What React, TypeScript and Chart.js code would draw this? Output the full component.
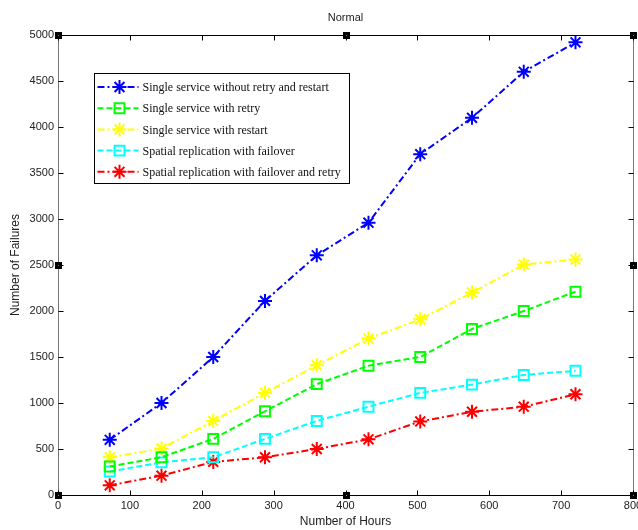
import React, { useEffect, useRef } from 'react';
import { Chart, registerables } from 'chart.js';

Chart.register(...registerables);

const chartTitle = 'Normal';
const xAxisTitle = 'Number of Hours';
const yAxisTitle = 'Number of Failures';
const hours = [72, 144, 216, 288, 360, 432, 504, 576, 648, 720];
const noRetryRestart = [600, 1000, 1500, 2110, 2605, 2960, 3705, 4100, 4600, 4920];
const withRetry = [310, 410, 610, 910, 1205, 1405, 1500, 1805, 2000, 2210];
const withRestart = [410, 505, 805, 1110, 1410, 1700, 1910, 2200, 2505, 2560];
const spatialFailover = [255, 355, 410, 610, 805, 960, 1110, 1200, 1305, 1350];
const spatialFailoverRetry = [105, 210, 360, 410, 500, 605, 800, 905, 960, 1095];
const seriesLabels = [
  'Single service without retry and restart',
  'Single service with retry',
  'Single service with restart',
  'Spatial replication with failover',
  'Spatial replication with failover and retry',
];
const seriesColors = ['#0000ff', '#00ff00', '#ffff00', '#00ffff', '#ff0000'];
const seriesMarkers = ['star', 'rect', 'star', 'rect', 'star'];
const seriesValues = [noRetryRestart, withRetry, withRestart, spatialFailover, spatialFailoverRetry];
const xMin = 0, xMax = 800, xStep = 100;
const yMin = 0, yMax = 5000, yStep = 500;

const DASH_DOT = [7, 3, 2, 3];
const DASHED = [6, 3];

function drawMarker(ctx: CanvasRenderingContext2D, style: string, x: number, y: number, r: number) {
  ctx.beginPath();
  if (style === 'star') {
    ctx.moveTo(x - r, y); ctx.lineTo(x + r, y);
    ctx.moveTo(x, y - r); ctx.lineTo(x, y + r);
    const d = r * Math.SQRT1_2;
    ctx.moveTo(x - d, y - d); ctx.lineTo(x + d, y + d);
    ctx.moveTo(x - d, y + d); ctx.lineTo(x + d, y - d);
  } else {
    const s = r * Math.SQRT1_2;
    ctx.rect(x - s, y - s, 2 * s, 2 * s);
  }
  ctx.stroke();
}

const zeroPad = () => ({ left: 0, top: 0, right: 0, bottom: 0 });

const decorPlugin = {
  id: 'matlabDecor',
  afterDatasetsDraw(chart: any) {
    const ctx: CanvasRenderingContext2D = chart.ctx;
    const { left, right, top, bottom } = chart.chartArea;
    const xs = chart.scales.x;
    const ys = chart.scales.y;
    const L = Math.round(left) + 0.5, R = Math.round(right) + 0.5;
    const T = Math.round(top) + 0.5, B = Math.round(bottom) + 0.5;
    ctx.save();
    ctx.setLineDash([]);
    ctx.lineWidth = 1;
    ctx.strokeStyle = '#000';
    ctx.beginPath();
    ctx.moveTo(L, T); ctx.lineTo(R, T);
    ctx.moveTo(L, B); ctx.lineTo(R, B);
    ctx.stroke();
    ctx.strokeStyle = '#777';
    ctx.beginPath();
    ctx.moveTo(L, T); ctx.lineTo(L, B);
    ctx.moveTo(R, T); ctx.lineTo(R, B);
    ctx.stroke();
    ctx.strokeStyle = '#000';
    ctx.beginPath();
    for (let v = xMin; v <= xMax; v += xStep) {
      const px = Math.round(xs.getPixelForValue(v)) + 0.5;
      ctx.moveTo(px, B); ctx.lineTo(px, B - 5);
      ctx.moveTo(px, T); ctx.lineTo(px, T + 5);
    }
    for (let v = yMin; v <= yMax; v += yStep) {
      const py = Math.round(ys.getPixelForValue(v)) + 0.5;
      ctx.moveTo(L, py); ctx.lineTo(L + 5, py);
      ctx.moveTo(R, py); ctx.lineTo(R - 5, py);
    }
    ctx.stroke();
    const hx = [xMin, (xMin + xMax) / 2, xMax];
    const hy = [yMin, (yMin + yMax) / 2, yMax];
    for (const vx of hx) {
      for (const vy of hy) {
        if (vx === (xMin + xMax) / 2 && vy === (yMin + yMax) / 2) continue;
        const px = Math.round(xs.getPixelForValue(vx));
        const py = Math.round(ys.getPixelForValue(vy));
        ctx.fillStyle = '#000';
        ctx.fillRect(px - 3, py - 3, 7, 7);
        ctx.fillStyle = '#888';
        ctx.fillRect(px, py, 1, 1);
      }
    }
    ctx.fillStyle = '#222';
    ctx.font = '11px "Liberation Sans", Arial, sans-serif';
    ctx.textAlign = 'center';
    ctx.textBaseline = 'middle';
    ctx.fillText(chartTitle, (left + right) / 2, top - 17);
    const lx = Math.round(left + 36) + 0.5;
    const ly = Math.round(top + 38) + 0.5;
    const lw = 255, lh = 110;
    ctx.fillStyle = '#fff';
    ctx.fillRect(lx, ly, lw, lh);
    ctx.strokeStyle = '#000';
    ctx.lineWidth = 1;
    ctx.strokeRect(lx, ly, lw, lh);
    ctx.font = '12px "Liberation Serif", "Times New Roman", serif';
    ctx.textAlign = 'left';
    chart.data.datasets.forEach((ds: any, i: number) => {
      const y = ly + 13.5 + i * 21.2;
      ctx.strokeStyle = ds.borderColor;
      ctx.lineWidth = 2;
      ctx.setLineDash(ds.borderDash);
      ctx.beginPath();
      ctx.moveTo(lx + 3, y); ctx.lineTo(lx + 44, y);
      ctx.stroke();
      ctx.setLineDash([]);
      drawMarker(ctx, ds.pointStyle, lx + 25, y, 7);
      ctx.fillStyle = '#111';
      ctx.fillText(ds.label, lx + 48, y + 1);
    });
    ctx.restore();
  },
};

export default function App() {
  const ref = useRef<HTMLCanvasElement | null>(null);
  useEffect(() => {
    if (!ref.current) return;
    const datasets = seriesLabels.map((label, i) => ({
      label,
      data: hours.map((h, j) => ({ x: h, y: seriesValues[i][j] })),
      borderColor: seriesColors[i],
      backgroundColor: 'transparent',
      borderWidth: 2,
      borderDash: seriesMarkers[i] === 'star' ? DASH_DOT : DASHED,
      pointStyle: seriesMarkers[i],
      pointRadius: 7,
      pointBorderWidth: 2,
      pointBorderColor: seriesColors[i],
      pointBackgroundColor: 'transparent',
      tension: 0,
      fill: false,
    }));
    const tickFont = { family: '"Liberation Sans", Arial, sans-serif', size: 11 };
    const chart = new Chart(ref.current, {
      type: 'line',
      data: { datasets },
      options: {
        animation: false,
        responsive: false,
        devicePixelRatio: 1,
        layout: { autoPadding: false, padding: { top: 35, right: 5, left: 0, bottom: 0 } },
        plugins: { legend: { display: false }, title: { display: false }, tooltip: { enabled: false } },
        scales: {
          x: {
            type: 'linear',
            min: xMin,
            max: xMax,
            ticks: { stepSize: xStep, font: tickFont, color: '#222', padding: 4, maxRotation: 0, callback: (v: any) => String(v) },
            grid: { display: false, drawTicks: false },
            border: { display: false },
            title: {
              display: true,
              text: xAxisTitle,
              color: '#222',
              font: { family: '"Liberation Sans", Arial, sans-serif', size: 12 },
              padding: { top: 0, bottom: 1 },
            },
            afterFit: (s: any) => {
              s.height = 35;
              s.paddingLeft = 0; s.paddingRight = 0;
              s.getPadding = zeroPad;
            },
          },
          y: {
            type: 'linear',
            min: yMin,
            max: yMax,
            ticks: { stepSize: yStep, font: tickFont, color: '#222', padding: 4, callback: (v: any) => String(v) },
            grid: { display: false, drawTicks: false },
            border: { display: false },
            title: {
              display: true,
              text: yAxisTitle,
              color: '#222',
              font: { family: '"Liberation Sans", Arial, sans-serif', size: 12 },
              padding: { top: 8, bottom: 0 },
            },
            afterFit: (s: any) => {
              s.width = 58;
              s.paddingTop = 0; s.paddingBottom = 0;
              s.getPadding = zeroPad;
            },
          },
        },
      } as any,
      plugins: [decorPlugin],
    });
    return () => chart.destroy();
  }, []);
  return (
    <div style={{ position: 'fixed', left: 0, top: 0, width: 638, height: 530, background: '#fff' }}>
      <canvas ref={ref} width={638} height={530} style={{ display: 'block', width: 638, height: 530 }} />
    </div>
  );
}
